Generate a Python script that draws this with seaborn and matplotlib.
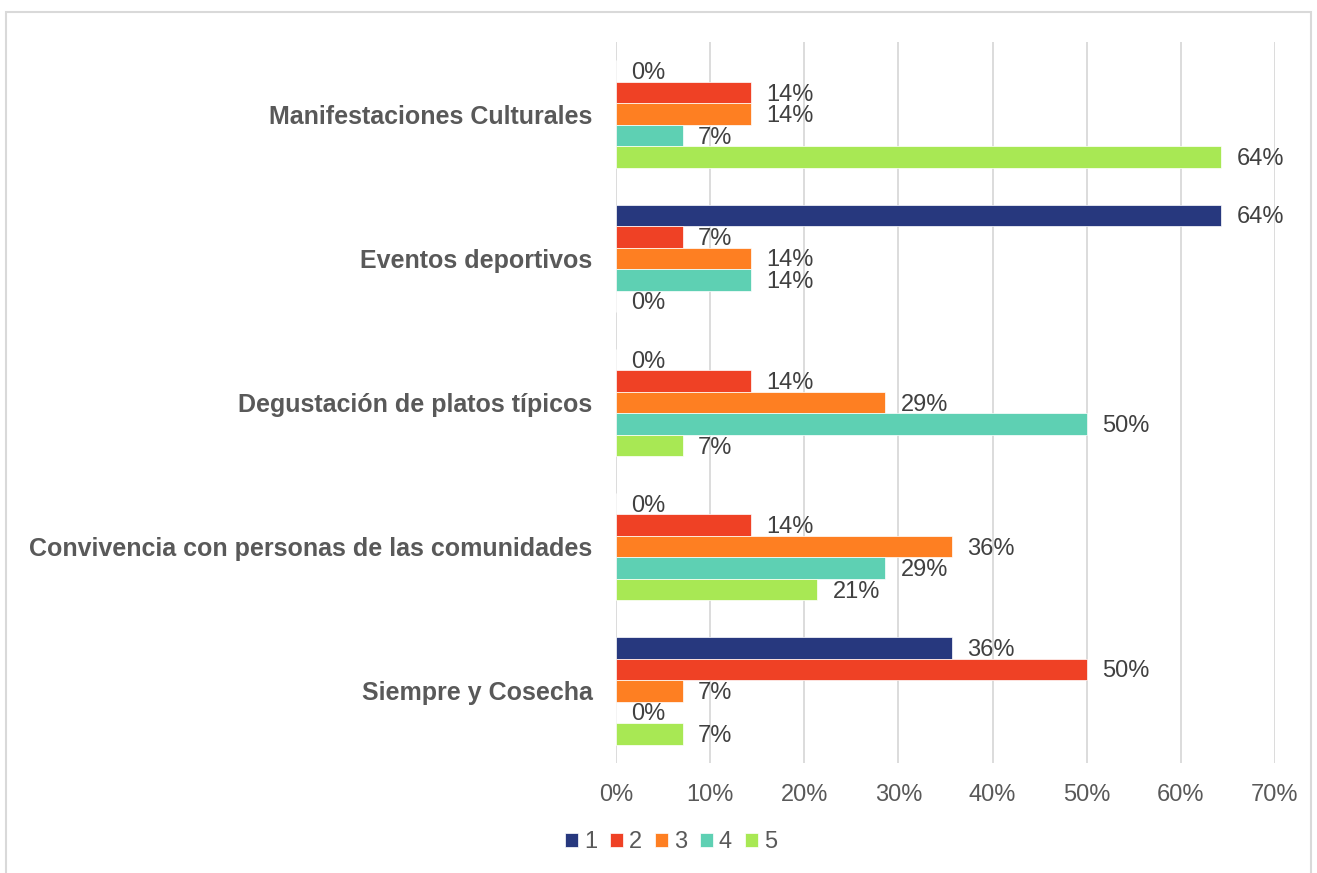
import matplotlib
matplotlib.use("Agg")
import matplotlib.pyplot as plt
import seaborn as sns
import pandas as pd
from matplotlib.patches import Rectangle
from matplotlib.ticker import PercentFormatter

categories = ["Manifestaciones Culturales", "Eventos deportivos",
              "Degustación de platos típicos",
              "Convivencia con personas de las comunidades", "Siempre y Cosecha"]
series = ["1", "2", "3", "4", "5"]
values = {
    "1": [0.0, 0.643, 0.0, 0.0, 0.357],
    "2": [0.143, 0.071, 0.143, 0.143, 0.5],
    "3": [0.143, 0.143, 0.286, 0.357, 0.071],
    "4": [0.071, 0.143, 0.5, 0.286, 0.0],
    "5": [0.643, 0.0, 0.071, 0.214, 0.071],
}
colors = ["#27387E", "#EF4125", "#FE7F22", "#5ED0B3", "#A8E854"]

rows = []
for s in series:
    for c, v in zip(categories, values[s]):
        rows.append({"cat": c, "serie": s, "val": v})
df = pd.DataFrame(rows)

sns.set_theme(style="white")
plt.rcParams["font.family"] = ["Liberation Sans", "DejaVu Sans"]

fig = plt.figure(figsize=(13.17, 8.73), dpi=100)
ax = fig.add_axes([616 / 1317, 1 - 763 / 873, (1275 - 616) / 1317, (763 - 42) / 873])

sns.barplot(data=df, y="cat", x="val", hue="serie", order=categories,
            hue_order=series, palette=colors, orient="h", width=0.745,
            saturation=1, ax=ax, legend=True, edgecolor="white", linewidth=0.5)

ax.set_xlim(0, 0.7)
ax.set_xticks([i / 10 for i in range(8)])
ax.xaxis.set_major_formatter(PercentFormatter(1.0, decimals=0))
ax.grid(axis="x", color="#D9D9D9", linewidth=1.3)
ax.set_axisbelow(True)
for sp in ax.spines.values():
    sp.set_visible(False)
ax.set_xlabel("")
ax.set_ylabel("")
ax.tick_params(axis="x", length=0, pad=15, labelsize=17, labelcolor="#595959")
ax.tick_params(axis="y", length=0, pad=17, labelsize=18, labelcolor="#595959")
for t in ax.get_yticklabels():
    t.set_fontweight("bold")

for cont in ax.containers:
    for bar in cont:
        w = bar.get_width()
        y = bar.get_y() + bar.get_height() / 2
        ax.annotate(f"{round(w * 100):.0f}%", (w, y), xytext=(11, -1.5),
                    textcoords="offset points", va="center", ha="left",
                    fontsize=17, color="#404040")

leg = ax.legend(loc="center", bbox_to_anchor=(671 / 1317, 1 - 842 / 873),
                bbox_transform=fig.transFigure, ncol=5, frameon=False,
                fontsize=17, handlelength=0.55, handleheight=0.55,
                handletextpad=0.25, columnspacing=0.55)
for t in leg.get_texts():
    t.set_color("#595959")

fig.patches.append(Rectangle((6 / 1317, -0.05), (1311 - 6) / 1317, 1 - 12 / 873 + 0.05,
                             transform=fig.transFigure, fill=False,
                             edgecolor="#D9D9D9", linewidth=1.5))

fig.savefig("out.png", dpi=100)
